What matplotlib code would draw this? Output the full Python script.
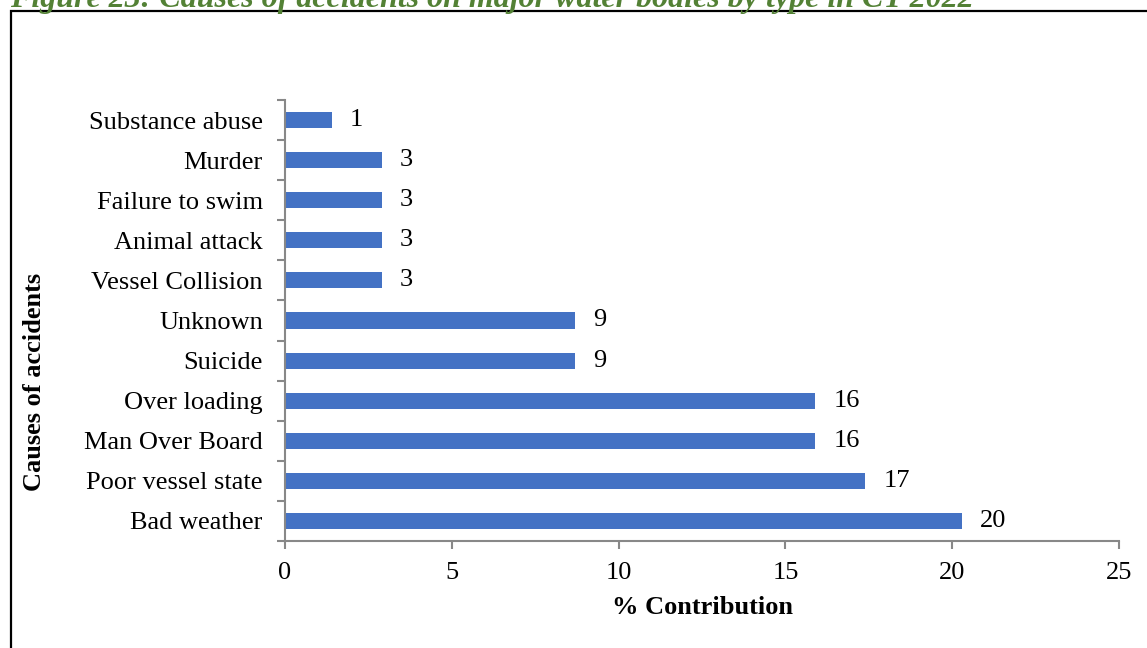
import matplotlib
matplotlib.use("Agg")
import matplotlib.pyplot as plt
from matplotlib.patches import Rectangle

# data, listed bottom to top
causes = ['Bad weather', 'Poor vessel state', 'Man Over Board', 'Over loading',
          'Suicide', 'Unknown', 'Vessel Collision', 'Animal attack',
          'Failure to swim', 'Murder', 'Substance abuse']
contribution = [20.3, 17.4, 15.9, 15.9, 8.7, 8.7, 2.9, 2.9, 2.9, 2.9, 1.4]
xticks = [0, 5, 10, 15, 20, 25]

plt.rcParams['font.family'] = ['Liberation Serif', 'DejaVu Serif']
FS = 19

W, H = 1147, 648
fig = plt.figure(figsize=(W / 100, H / 100), dpi=100)
ax = fig.add_axes([285 / W, 1 - 541 / H, (1119 - 285) / W, (541 - 100) / H])

bars = ax.barh(range(len(causes)), contribution, height=0.4, color='#4472C4')
for b, v in zip(bars, contribution):
    ax.annotate(f'{v:.0f}', (b.get_width(), b.get_y() + b.get_height() / 2),
                xytext=(13, 0), textcoords='offset points',
                ha='left', va='center', fontsize=FS)

ax.set_xlim(0, 25)
ax.set_ylim(-0.5, len(causes) - 0.5)
ax.set_xticks(xticks)
ax.set_xticklabels([str(t) for t in xticks], fontsize=FS)
ax.set_yticks(range(len(causes)))
ax.set_yticklabels(causes, fontsize=FS)
ax.set_yticks([i - 0.5 for i in range(len(causes) + 1)], minor=True)
ax.tick_params(axis='y', which='major', length=0, pad=16)
ax.tick_params(axis='y', which='minor', length=6, color='#888888', width=1.5)
ax.tick_params(axis='x', length=6, color='#888888', width=1.5, pad=9)

for s in ['top', 'right']:
    ax.spines[s].set_visible(False)
for s in ['left', 'bottom']:
    ax.spines[s].set_color('#888888')
    ax.spines[s].set_linewidth(1.5)

ax.set_xlabel('% Contribution', fontsize=FS, fontweight='bold', labelpad=9)
fig.text(35 / W, 1 - 382 / H, 'Causes of accidents', rotation=90, fontsize=FS,
         fontweight='bold', ha='center', va='center')

# page frame and figure caption (cut at the top)
fig.patches.append(Rectangle((10.5 / W, -0.1), 1.2, 1.1 - 11.5 / H, transform=fig.transFigure,
                             fill=False, edgecolor='black', linewidth=1.6))
fig.text(10 / W, 1 - 7 / H,
         'Figure 23: Causes of accidents on major water bodies by type in CY 2022',
         fontsize=23, fontweight='bold', fontstyle='italic', color='#538135',
         ha='left', va='baseline')

fig.savefig('out.png', dpi=100)
